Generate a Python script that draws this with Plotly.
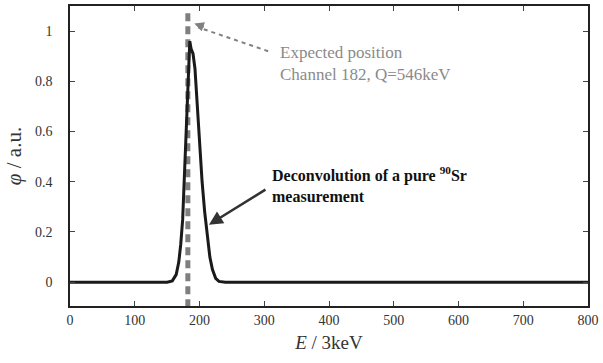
import plotly.graph_objects as go

# Deconvolved spectrum of a pure 90Sr source
channel = [0, 150, 158, 164, 168, 171, 174, 177, 180, 183, 185, 187, 190, 193,
           196, 200, 204, 208, 212, 216, 220, 225, 230, 240, 800]
phi = [0, 0, 0.005, 0.03, 0.08, 0.15, 0.25, 0.45, 0.68, 0.88, 0.96, 0.93, 0.91,
       0.85, 0.72, 0.55, 0.40, 0.28, 0.18, 0.10, 0.05, 0.015, 0.003, 0, 0]

expected_channel = 182
x_ticks = [0, 100, 200, 300, 400, 500, 600, 700, 800]
y_ticks = [0, 0.2, 0.4, 0.6, 0.8, 1]
y_tick_text = ["0", "0.2", "0.4", "0.6", "0.8", "1"]

FONT = "Liberation Serif, Times New Roman, serif"

fig = go.Figure()

# expected peak position
fig.add_trace(go.Scatter(
    x=[expected_channel, expected_channel], y=[-0.1, 1.09],
    mode="lines", line=dict(color="#7f7f7f", width=5, dash="8px,5px"),
    hoverinfo="skip", showlegend=False))

# spectrum
fig.add_trace(go.Scatter(
    x=channel, y=phi, mode="lines",
    line=dict(color="#1a1a1a", width=3), showlegend=False))

# dashed pointer to the expected position
fig.add_shape(type="line", x0=306, y0=0.92, x1=198, y1=1.015,
              line=dict(color="#808080", width=2, dash="4px,4px"))
fig.add_annotation(x=192, y=1.03, ax=11, ay=4, text="", showarrow=True,
                   arrowhead=2, arrowsize=1.2, arrowwidth=1.6,
                   arrowcolor="#808080")
fig.add_annotation(x=322, y=0.87, xanchor="left", yanchor="middle", align="left",
                   text="Expected position<br>Channel 182, Q=546keV",
                   showarrow=False, font=dict(family=FONT, size=17, color="#8a8a8a"))

# label for the measured curve
fig.add_annotation(x=214.6, y=0.229, ax=58, ay=-36, text="", showarrow=True,
                   arrowhead=2, arrowsize=1.1, arrowwidth=2.5, arrowcolor="#333333")
fig.add_annotation(x=309.6, y=0.39, xanchor="left", yanchor="middle", align="left",
                   text="<b>Deconvolution of a pure <sup>90</sup>Sr<br>measurement</b>",
                   showarrow=False, font=dict(family=FONT, size=16, color="#111111"))

axis_common = dict(showgrid=False, zeroline=False, showline=True, linecolor="#222222",
                   linewidth=1.5, mirror="ticks", ticks="inside", ticklen=5,
                   tickcolor="#444444", ticklabeloverflow="allow",
                   tickfont=dict(family=FONT, size=14, color="#333333"))

fig.update_xaxes(range=[0, 800], tickvals=x_ticks,
                 title=dict(text="<i>E</i> / 3keV", font=dict(family=FONT, size=19, color="#333333"),
                            standoff=9),
                 **axis_common)
fig.update_yaxes(range=[-0.095, 1.1], tickvals=y_ticks, ticktext=y_tick_text,
                 ticklabelstandoff=13,
                 title=dict(text="<i>φ</i> / a.u.", font=dict(family=FONT, size=21, color="#333333"),
                            standoff=8),
                 **axis_common)

fig.update_layout(width=603, height=363, margin=dict(l=70, r=10, t=4, b=57),
                  paper_bgcolor="white", plot_bgcolor="white",
                  font=dict(family=FONT))

fig.write_html("out.html")
